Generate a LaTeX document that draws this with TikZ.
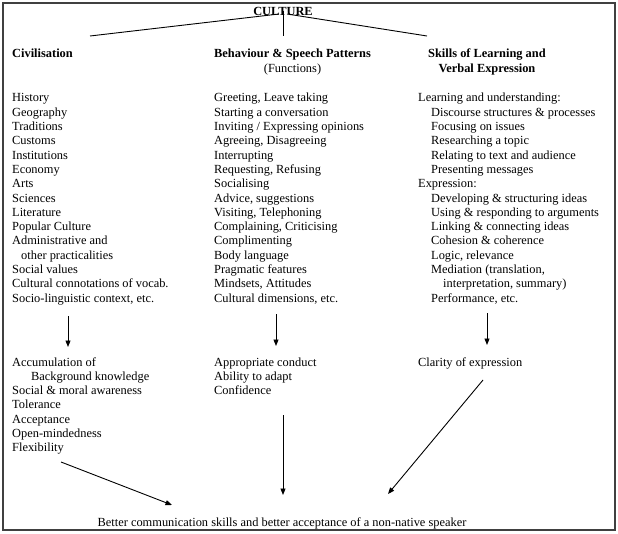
\documentclass[tikz,border=0pt]{standalone}
\usepackage{fontspec}
\setmainfont{Liberation Serif}
\usetikzlibrary{arrows.meta}
\begin{document}
\begin{tikzpicture}[x=1bp,y=-1bp,
  txt/.style={anchor=base west, inner sep=0pt, font=\fontsize{12.4bp}{14.3bp}\selectfont},
  hd/.style={anchor=base west, inner sep=0pt, font=\fontsize{12.4bp}{14.3bp}\selectfont\bfseries},
  conn/.style={line width=0.9bp, draw=black},
  arr/.style={conn, -{Triangle[length=6.5bp,width=5bp]}},
  frame/.style={line width=1.4bp, draw=black!75}]
\useasboundingbox (0,0) rectangle (618,534);
\draw[frame] (3,3) rectangle (615,530);

% title
\node[hd, anchor=base] (culture) at (283,15.5) {CULTURE};
\coordinate (tl) at (279,14);
\coordinate (tr) at (287,14);
\coordinate (tv) at (283,11);
\coordinate (el) at (90,36);
\coordinate (er) at (427,36);
\coordinate (ev) at (283,36);
\draw[conn] (tl) -- (el);
\draw[conn] (tr) -- (er);
\draw[conn] (tv) -- (ev);

% headers
\node[hd] (civ) at (12,58) {Civilisation};
\node[hd] (beh) at (214,58) {\begin{tabular}[t]{@{}c@{}}Behaviour \& Speech Patterns\\ \mdseries(Functions)\end{tabular}};
\node[hd] (ski) at (428,58) {\begin{tabular}[t]{@{}c@{}}Skills of Learning and\\ Verbal Expression\end{tabular}};

% lists
\node[txt] (civlist) at (12,102) {\begin{tabular}[t]{@{}l@{}}
History\\ Geography\\ Traditions\\ Customs\\ Institutions\\ Economy\\ Arts\\ Sciences\\ Literature\\ Popular Culture\\ Administrative and\\ \hspace*{9bp}other practicalities\\ Social values\\ Cultural connotations of vocab.\\ Socio-linguistic context, etc.
\end{tabular}};
\node[txt] (behlist) at (214,102) {\begin{tabular}[t]{@{}l@{}}
Greeting, Leave taking\\ Starting a conversation\\ Inviting / Expressing opinions\\ Agreeing, Disagreeing\\ Interrupting\\ Requesting, Refusing\\ Socialising\\ Advice, suggestions\\ Visiting, Telephoning\\ Complaining, Criticising\\ Complimenting\\ Body language\\ Pragmatic features\\ Mindsets, Attitudes\\ Cultural dimensions, etc.
\end{tabular}};
\node[txt] (skilist) at (418,102) {\begin{tabular}[t]{@{}l@{}}
Learning and understanding:\\ \hspace*{13bp}Discourse structures \& processes\\ \hspace*{13bp}Focusing on issues\\ \hspace*{13bp}Researching a topic\\ \hspace*{13bp}Relating to text and audience\\ \hspace*{13bp}Presenting messages\\ Expression:\\ \hspace*{13bp}Developing \& structuring ideas\\ \hspace*{13bp}Using \& responding to arguments\\ \hspace*{13bp}Linking \& connecting ideas\\ \hspace*{13bp}Cohesion \& coherence\\ \hspace*{13bp}Logic, relevance\\ \hspace*{13bp}Mediation (translation,\\ \hspace*{25bp}interpretation, summary)\\ \hspace*{13bp}Performance, etc.
\end{tabular}};

% outcomes
\node[txt] (civout) at (12,366) {\begin{tabular}[t]{@{}l@{}}
Accumulation of\\ \hspace*{19bp}Background knowledge\\ Social \& moral awareness\\ Tolerance\\ Acceptance\\ Open-mindedness\\ Flexibility
\end{tabular}};
\node[txt] (behout) at (214,366) {\begin{tabular}[t]{@{}l@{}}
Appropriate conduct\\ Ability to adapt\\ Confidence
\end{tabular}};
\node[txt] (skiout) at (418,366) {Clarity of expression};

\node[txt, anchor=base] (result) at (282,526) {Better communication skills and better acceptance of a non-native speaker};

% arrows
\coordinate (a1s) at (68,316); \coordinate (a1e) at (68,347);
\coordinate (a2s) at (276,314); \coordinate (a2e) at (276,346);
\coordinate (a3s) at (487,313); \coordinate (a3e) at (487,345);
\draw[arr] (a1s) -- (a1e);
\draw[arr] (a2s) -- (a2e);
\draw[arr] (a3s) -- (a3e);

\coordinate (b1s) at (61,462); \coordinate (b1e) at (172,505);
\coordinate (b2s) at (283,415); \coordinate (b2e) at (283,495);
\coordinate (b3s) at (483,380); \coordinate (b3e) at (388,494);
\draw[arr] (b1s) -- (b1e);
\draw[arr] (b2s) -- (b2e);
\draw[arr] (b3s) -- (b3e);
\end{tikzpicture}
\end{document}
